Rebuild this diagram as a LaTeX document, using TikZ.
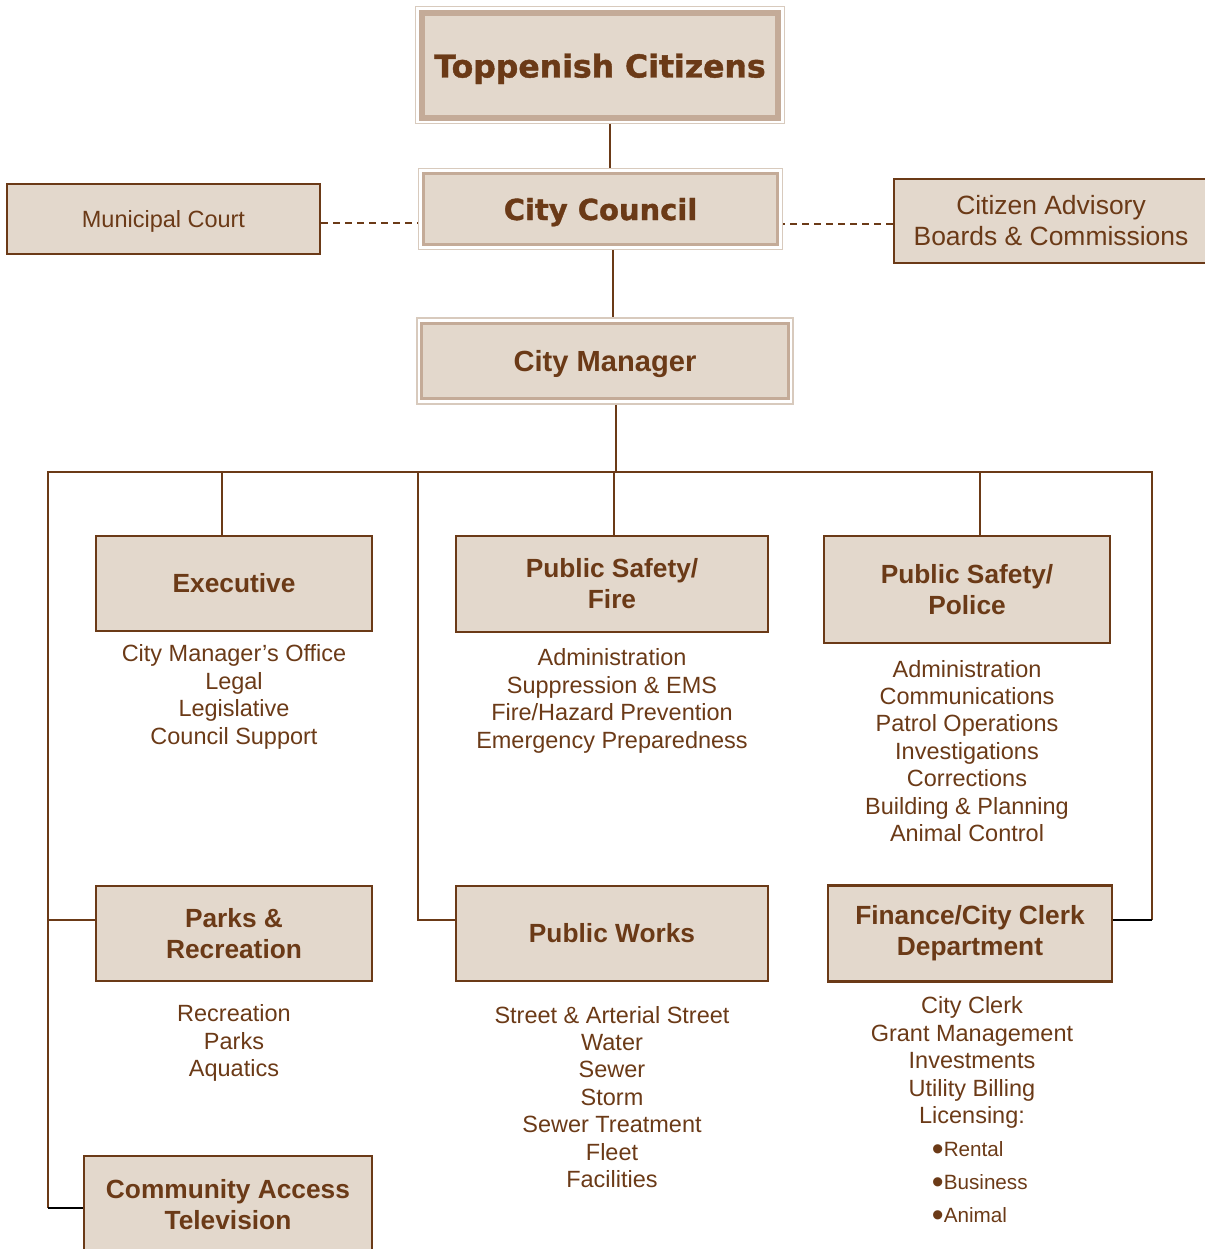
\documentclass[tikz,border=0pt]{standalone}
\usepackage{fontspec}
\setmainfont{Liberation Sans}
\newfontfamily\heavyfont{DejaVu Sans}[BoldFeatures={FakeBold=1.3}]
\usetikzlibrary{calc}
\definecolor{orgbrown}{HTML}{6B3A17}
\definecolor{orgfill}{HTML}{E3D8CC}
\definecolor{orgband}{HTML}{C4AB98}
\definecolor{orgedge}{HTML}{D8CABD}
\newlength{\pxu}
\setlength{\pxu}{0.025cm}
\newcommand{\blt}{\raisebox{-3.2pt}{\fontsize{24}{24}\selectfont•}}
\tikzset{
  outerframe/.style={draw=orgedge, line width=1.8\pxu, fill=white, inner sep=0pt},
  band/.style={draw=orgband, fill=orgfill, text=orgbrown, inner sep=0pt, align=center, text depth=0pt},
  unit/.style={draw=orgbrown, line width=2.6\pxu, fill=orgfill, text=orgbrown, inner sep=0pt, align=center, font=\bfseries\fontsize{18.7}{22}\selectfont},
  duties/.style={text=orgbrown, align=center, font=\fontsize{16.7}{19.5}\selectfont},
  link/.style={draw=orgbrown, line width=2\pxu},
  dashlink/.style={draw=orgbrown, line width=1.6\pxu, dash pattern=on 7\pxu off 5\pxu},
}

\begin{document}
\begin{tikzpicture}[x=\pxu, y=-\pxu]
    \useasboundingbox (0,0) rectangle (1204,1249);
    % Top boxes
    \node[outerframe, minimum width=369\pxu, minimum height=117\pxu] (citizens) at (600,65) {};
    \node[band, line width=6\pxu, minimum width=356\pxu, minimum height=105\pxu, font=\heavyfont\bfseries\fontsize{22.4}{26}\selectfont] (citizens-in) at (600,65.5) {Toppenish Citizens};
    \node[outerframe, minimum width=364\pxu, minimum height=81\pxu] (council) at (600.5,209) {};
    \node[band, line width=3\pxu, minimum width=354\pxu, minimum height=71\pxu, font=\heavyfont\bfseries\fontsize{20.6}{24}\selectfont] (council-in) at (600.5,209) {City Council};
    \node[outerframe, minimum width=376\pxu, minimum height=86\pxu] (manager) at (605,361) {};
    \node[band, line width=3\pxu, minimum width=367\pxu, minimum height=75\pxu, font=\bfseries\fontsize{20.7}{24}\selectfont] (manager-in) at (605,361) {City Manager};
    % Side boxes
    \node[unit, text depth=0pt, minimum width=313\pxu, minimum height=70\pxu, font=\fontsize{16.7}{19.5}\selectfont] (court) at (163.5,219) {Municipal Court};
    \node[unit, minimum width=314\pxu, minimum height=84\pxu, font=\fontsize{18.8}{22}\selectfont] (advisory) at (1051,221) {Citizen Advisory\\Boards \& Commissions};
    % Departments
    \node[unit, minimum width=276\pxu, minimum height=95\pxu] (exec) at (234,583.5) {Executive};
    \node[unit, minimum width=312\pxu, minimum height=96\pxu] (fire) at (612,584) {Public Safety/\\Fire};
    \node[unit, minimum width=286\pxu, minimum height=107\pxu] (police) at (967,589.5) {Public Safety/\\Police};
    \node[unit, minimum width=276\pxu, minimum height=95\pxu] (parks) at (234,933.5) {Parks \&\\Recreation};
    \node[unit, minimum width=312\pxu, minimum height=95\pxu] (works) at (612,933.5) {Public Works};
    \node[unit, minimum width=284\pxu, minimum height=96\pxu] (finance) at (970,933.5) {Finance/City Clerk\\Department};
    \node[unit, minimum width=288\pxu, minimum height=97\pxu] (catv) at (228,1204.5) {Community Access\\Television};
    % Duties
    \node[duties] (execlist) at (234,697) {City Manager’s Office\\Legal\\Legislative\\Council Support};
    \node[duties] (firelist) at (612,701) {Administration\\Suppression \& EMS\\Fire/Hazard Prevention\\Emergency Preparedness};
    \node[duties] (policelist) at (967,751) {Administration\\Communications\\Patrol Operations\\Investigations\\Corrections\\Building \& Planning\\Animal Control};
    \node[duties] (parkslist) at (234,1043) {Recreation\\Parks\\Aquatics};
    \node[duties] (workslist) at (612,1097) {Street \& Arterial Street\\Water\\Sewer\\Storm\\Sewer Treatment\\Fleet\\Facilities};
    \node[duties] (financelist) at (972,1062.5) {City Clerk\\Grant Management\\Investments\\Utility Billing\\Licensing:};
    \node[duties, align=left, anchor=west, font=\fontsize{14.7}{23.4}\selectfont] (licences) at (927,1184) {\blt Rental\\\blt Business\\\blt Animal};
    % Chain of command
    \draw[link] ([xshift=10\pxu]citizens.south) -- ([xshift=10\pxu]citizens.south |- council.north);
    \draw[link] ([xshift=12\pxu]council.south) -- ([xshift=12\pxu]council.south |- manager.north);
    \draw[link] ([xshift=11\pxu]manager.south) -- ++(0,68) coordinate (hub);
    % Dashed links
    \coordinate (courtlink) at ([yshift=-4\pxu]court.east);
    \draw[dashlink] (courtlink) -- (courtlink -| council.west);
    \coordinate (advlink) at ([yshift=-3\pxu]advisory.west);
    \draw[dashlink] (advlink) -- (advlink -| council.east);
    % Bus
    \coordinate (busL) at (48,472);
    \coordinate (busW) at (418,472);
    \coordinate (busR) at (1152,472);
    \coordinate (catlink) at ([yshift=-3.5\pxu]catv.west);
    \coordinate (parklink) at ([yshift=14\pxu]parks.west);
    \coordinate (worklink) at ([yshift=14\pxu]works.west);
    \coordinate (finlink) at ([yshift=14\pxu]finance.east);
    \draw[link] (busL |- catlink) -- (busL) -- (busR) -- (busR |- finlink);
    \draw[link] ([xshift=-12\pxu]exec.north) -- ++(0,-64);
    \draw[link] ([xshift=2\pxu]fire.north) -- ++(0,-64);
    \draw[link] ([xshift=13\pxu]police.north) -- ++(0,-64);
    \draw[link] (busW) |- (worklink);
    \draw[link] (busL |- parklink) -- (parklink);
    \draw[link, draw=black] (busL |- catlink) -- (catlink);
    \draw[link, draw=black] (busR |- finlink) -- (finlink);
\end{tikzpicture}
\end{document}
